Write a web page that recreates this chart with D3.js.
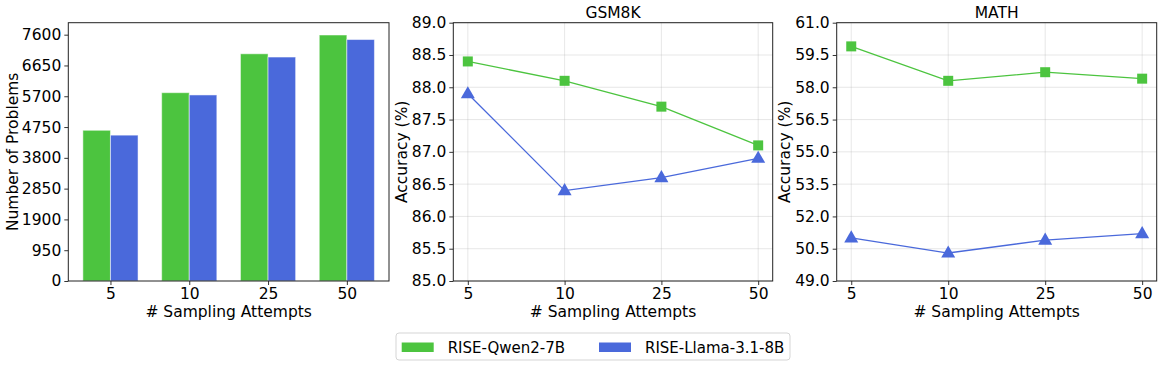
<!DOCTYPE html>
<html>
<head>
<meta charset="utf-8">
<script src="https://cdn.jsdelivr.net/npm/d3@7"></script>
<style>
  body { margin: 0; background: #fff; }
  text { font-family: "DejaVu Sans", sans-serif; fill: #000; }
</style>
</head>
<body>
<svg id="chart" width="1162" height="367"></svg>
<script>
// data
var attempts = ["5", "10", "25", "50"];
var seriesNames = ["RISE-Qwen2-7B", "RISE-Llama-3.1-8B"];
var colors = ["#4CC43F", "#4A69DB"];

var problemsQwen = [4650, 5810, 7010, 7590];
var problemsLlama = [4500, 5740, 6910, 7450];
var problemTicks = [0, 950, 1900, 2850, 3800, 4750, 5700, 6650, 7600];

var gsmQwen = [88.4, 88.1, 87.7, 87.1];
var gsmLlama = [87.9, 86.4, 86.6, 86.9];
var gsmTicks = [85.0, 85.5, 86.0, 86.5, 87.0, 87.5, 88.0, 88.5, 89.0];

var mathQwen = [59.9, 58.3, 58.7, 58.4];
var mathLlama = [51.0, 50.3, 50.9, 51.2];
var mathTicks = [49.0, 50.5, 52.0, 53.5, 55.0, 56.5, 58.0, 59.5, 61.0];

var svg = d3.select("#chart");
var plotTop = 22.7, plotBottom = 281;
var fs = 15.5;

// ---------- panel 1: bars ----------
(function(){
  var left = 68.3, right = 389;
  var bw = 0.35;
  var x = d3.scaleLinear().domain([-0.535, 3.535]).range([left, right]);
  var ymax = d3.max(problemsQwen.concat(problemsLlama)) * 1.05;
  var y = d3.scaleLinear().domain([0, ymax]).range([plotBottom, plotTop]);
  var g = svg.append("g");

  var data = [];
  attempts.forEach(function(a, i){
    data.push({i: i, s: 0, v: problemsQwen[i]});
    data.push({i: i, s: 1, v: problemsLlama[i]});
  });

  g.selectAll("rect.bar")
    .data(data)
    .enter().append("rect")
    .attr("class", "bar")
    .attr("x", function(d){ return x(d.i - bw + d.s * bw); })
    .attr("width", function(){ return x(bw) - x(0); })
    .attr("y", function(d){ return y(d.v); })
    .attr("height", function(d){ return y(0) - y(d.v); })
    .attr("fill", function(d){ return colors[d.s]; })
    .attr("stroke", "#ffffff")
    .attr("stroke-opacity", 0.5)
    .attr("stroke-width", 1);

  var yAxis = g.append("g").attr("transform", "translate(" + left + ",0)")
    .call(d3.axisLeft(y).tickValues(problemTicks).tickSize(4).tickPadding(3).tickFormat(d3.format("d")));
  var xAxis = g.append("g").attr("transform", "translate(0," + plotBottom + ")")
    .call(d3.axisBottom(x).tickValues([0, 1, 2, 3]).tickSize(4).tickPadding(3)
      .tickFormat(function(d){ return attempts[d]; }));
  [yAxis, xAxis].forEach(function(a){
    a.select(".domain").remove();
    a.selectAll("text").style("font-size", fs + "px").style("font-family", "DejaVu Sans");
    a.selectAll("line").attr("stroke", "#000").attr("stroke-width", 0.8);
  });

  g.append("rect").attr("x", left).attr("y", plotTop)
    .attr("width", right - left).attr("height", plotBottom - plotTop)
    .attr("fill", "none").attr("stroke", "#222").attr("stroke-width", 1);

  g.append("text").attr("x", (left + right) / 2).attr("y", 317)
    .attr("text-anchor", "middle").style("font-size", fs + "px").text("# Sampling Attempts");
  g.append("text").attr("transform", "translate(18," + (plotTop + plotBottom) / 2 + ") rotate(-90)")
    .attr("text-anchor", "middle").style("font-size", fs + "px").text("Number of Problems");
})();

// ---------- line panels ----------
function linePanel(left, right, title, qwen, llama, ticks, labelX){
  var x = d3.scaleLinear().domain([-0.15, 3.15]).range([left, right]);
  var y = d3.scaleLinear().domain([ticks[0], ticks[ticks.length - 1]]).range([plotBottom, plotTop]);
  var g = svg.append("g");

  // grid
  g.selectAll("line.gy").data(ticks).enter().append("line")
    .attr("x1", left).attr("x2", right)
    .attr("y1", function(d){ return y(d); }).attr("y2", function(d){ return y(d); })
    .attr("stroke", "#b0b0b0").attr("stroke-opacity", 0.3).attr("stroke-width", 1);
  g.selectAll("line.gx").data([0, 1, 2, 3]).enter().append("line")
    .attr("y1", plotTop).attr("y2", plotBottom)
    .attr("x1", function(d){ return x(d); }).attr("x2", function(d){ return x(d); })
    .attr("stroke", "#b0b0b0").attr("stroke-opacity", 0.3).attr("stroke-width", 1);

  var line = d3.line().x(function(d, i){ return x(i); }).y(function(d){ return y(d); });

  [qwen, llama].forEach(function(vals, s){
    g.append("path").datum(vals)
      .attr("d", line).attr("fill", "none")
      .attr("stroke", colors[s]).attr("stroke-width", 1.3);
  });

  g.selectAll("path.sq").data(qwen).enter().append("path")
    .attr("transform", function(d, i){ return "translate(" + x(i) + "," + y(d) + ")"; })
    .attr("d", d3.symbol().type(d3.symbolSquare).size(100))
    .attr("fill", colors[0]);
  g.selectAll("path.tri").data(llama).enter().append("path")
    .attr("transform", function(d, i){ return "translate(" + x(i) + "," + (y(d) + 0.5) + ")"; })
    .attr("d", d3.symbol().type(d3.symbolTriangle).size(85))
    .attr("fill", colors[1]);

  var yAxis = g.append("g").attr("transform", "translate(" + left + ",0)")
    .call(d3.axisLeft(y).tickValues(ticks).tickSize(4).tickPadding(3).tickFormat(d3.format(".1f")));
  var xAxis = g.append("g").attr("transform", "translate(0," + plotBottom + ")")
    .call(d3.axisBottom(x).tickValues([0, 1, 2, 3]).tickSize(4).tickPadding(3)
      .tickFormat(function(d){ return attempts[d]; }));
  [yAxis, xAxis].forEach(function(a){
    a.select(".domain").remove();
    a.selectAll("text").style("font-size", fs + "px").style("font-family", "DejaVu Sans");
    a.selectAll("line").attr("stroke", "#000").attr("stroke-width", 0.8);
  });

  g.append("rect").attr("x", left).attr("y", plotTop)
    .attr("width", right - left).attr("height", plotBottom - plotTop)
    .attr("fill", "none").attr("stroke", "#222").attr("stroke-width", 1);

  g.append("text").attr("x", (left + right) / 2).attr("y", 18)
    .attr("text-anchor", "middle").style("font-size", "15.5px").text(title);
  g.append("text").attr("x", (left + right) / 2).attr("y", 317)
    .attr("text-anchor", "middle").style("font-size", fs + "px").text("# Sampling Attempts");
  g.append("text").attr("transform", "translate(" + labelX + "," + (plotTop + plotBottom) / 2 + ") rotate(-90)")
    .attr("text-anchor", "middle").style("font-size", fs + "px").text("Accuracy (%)");
}

linePanel(453.3, 772.7, "GSM8K", gsmQwen, gsmLlama, gsmTicks, 407);
linePanel(836.7, 1156.7, "MATH", mathQwen, mathLlama, mathTicks, 790);

// ---------- legend ----------
var lg = svg.append("g");
lg.append("rect").attr("x", 396).attr("y", 333).attr("width", 394).attr("height", 27)
  .attr("rx", 3).attr("fill", "#fff").attr("stroke", "#d5d5d5").attr("stroke-width", 1);
var legendX = [401.7, 599];
seriesNames.forEach(function(name, i){
  lg.append("rect").attr("x", legendX[i]).attr("y", 342.5).attr("width", 32).attr("height", 9.5)
    .attr("fill", colors[i]);
  lg.append("text").attr("x", legendX[i] + 46).attr("y", 352.5)
    .style("font-size", "15px").text(name);
});
</script>
</body>
</html>
